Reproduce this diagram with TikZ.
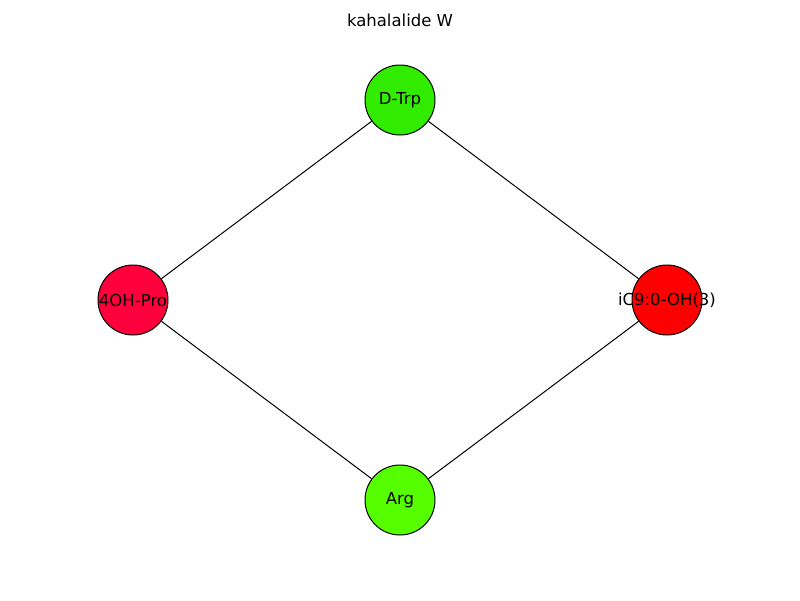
\documentclass[tikz,border=0pt]{standalone}
\usepackage{fontspec}
\setmainfont{DejaVu Sans}
\begin{document}
\begin{tikzpicture}[x=1pt,y=-1pt,
  res/.style={circle,draw=black,line width=1pt,minimum size=70pt,inner sep=0pt,font=\fontsize{16.5}{18}\selectfont},
  link/.style={draw=black,line width=1pt}]
\useasboundingbox (0,0) rectangle (800,600);
\definecolor{ctrp}{RGB}{50,236,0}
\definecolor{cpro}{RGB}{255,0,60}
\definecolor{cic}{RGB}{255,0,0}
\definecolor{carg}{RGB}{85,255,0}
\node[font=\fontsize{16.5}{18}\selectfont] (title) at (400,20) {kahalalide W};
\node[res,fill=ctrp] (trp) at (400,100) {};
\node[res,fill=cpro] (pro) at (133,300) {};
\node[res,fill=cic] (ic) at (667,300) {};
\node[res,fill=carg] (arg) at (400,500) {};
\draw[link] (trp) -- (pro);
\draw[link] (trp) -- (ic);
\draw[link] (pro) -- (arg);
\draw[link] (ic) -- (arg);
\node[font=\fontsize{16.5}{18}\selectfont] at (trp.center) {D-Trp};
\node[font=\fontsize{16.5}{18}\selectfont] at (pro.center) {4OH-Pro};
\node[font=\fontsize{16.5}{18}\selectfont] at (ic.center) {iC9:0-OH(3)};
\node[font=\fontsize{16.5}{18}\selectfont] at (arg.center) {Arg};
\end{tikzpicture}
\end{document}
